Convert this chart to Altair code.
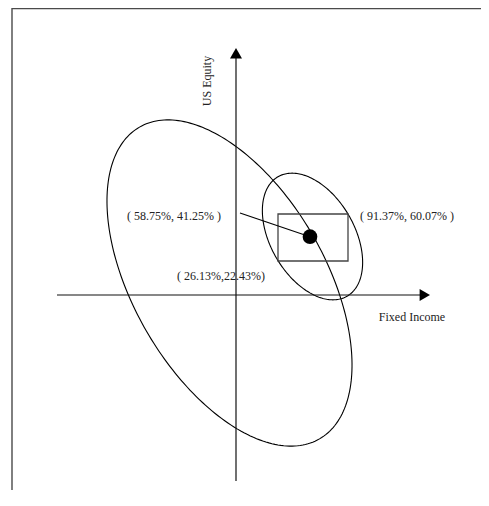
import altair as alt
import numpy as np
import pandas as pd

# ---- diagram values (data units: origin at axis crossing, 1 unit ~ 1 px, y up) ----
ellipse_names = ["big", "small"]
ellipse_cx = [-6.5, 76.5]
ellipse_cy = [12.0, 58.5]
ellipse_a = [180.0, 69.0]     # semi-major
ellipse_b = [96.0, 42.0]      # semi-minor
ellipse_angle = [-60.0, -60.0]  # degrees

axis_x_start, axis_x_end = -179, 185
axis_y_start, axis_y_end = -186, 240
arrow_names = ["up", "right"]
arrow_x = [0.0, 188.8]
arrow_y = [241.8, 0.0]
arrow_shape = ["triangle-up", "triangle-right"]

rect_x1, rect_x2 = [42.0], [112.0]
rect_y1, rect_y2 = [34.0], [81.0]

dot_x, dot_y = [74.0], [58.3]
leader_x = [4.0, 74.0]
leader_y = [82.0, 58.3]

label_text = ["( 58.75%, 41.25% )", "( 91.37%, 60.07% )", "( 26.13%,22.43%)", "Fixed Income"]
label_x = [-62.0, 171.0, -15.0, 176.0]
label_y = [79.0, 79.0, 19.0, -22.0]
ylabel_text = ["US Equity"]
ylabel_x, ylabel_y = [-29.0], [214.0]

frame_left_x = -224.0
frame_top_y = 286.5
frame_bottom_y = -195.0
frame_right_x = 245.0

XD = [-228, 245]
YD = [-195, 287]
xs = alt.Scale(domain=XD, nice=False, zero=False)
ys = alt.Scale(domain=YD, nice=False, zero=False)

# ellipse outlines
rows = []
t = np.linspace(0, 2 * np.pi, 241)
for n, cx, cy, a, b, ang in zip(ellipse_names, ellipse_cx, ellipse_cy, ellipse_a, ellipse_b, ellipse_angle):
    th = np.radians(ang)
    ex = cx + a * np.cos(t) * np.cos(th) - b * np.sin(t) * np.sin(th)
    ey = cy + a * np.cos(t) * np.sin(th) + b * np.sin(t) * np.cos(th)
    for i, (px, py) in enumerate(zip(ex, ey)):
        rows.append({"g": n, "o": i, "x": px, "y": py})
ell_df = pd.DataFrame(rows)

axes_df = pd.DataFrame({
    "g": ["h", "h", "v", "v"],
    "o": [0, 1, 0, 1],
    "x": [axis_x_start, axis_x_end, 0, 0],
    "y": [0, 0, axis_y_start, axis_y_end],
})
frame_df = pd.DataFrame({
    "g": ["f", "f", "f"],
    "o": [0, 1, 2],
    "x": [frame_left_x, frame_left_x, frame_right_x],
    "y": [frame_bottom_y, frame_top_y, frame_top_y],
})
leader_df = pd.DataFrame({"o": [0, 1], "x": leader_x, "y": leader_y})
arrow_df = pd.DataFrame({"n": arrow_names, "x": arrow_x, "y": arrow_y, "s": arrow_shape})
rect_df = pd.DataFrame({"x": rect_x1, "x2": rect_x2, "y": rect_y1, "y2": rect_y2})
dot_df = pd.DataFrame({"x": dot_x, "y": dot_y})
lab_df = pd.DataFrame({"t": label_text, "x": label_x, "y": label_y})
ylab_df = pd.DataFrame({"t": ylabel_text, "x": ylabel_x, "y": ylabel_y})

X = alt.X("x:Q", scale=xs, axis=None)
Y = alt.Y("y:Q", scale=ys, axis=None)

frame = alt.Chart(frame_df).mark_line(color="#4a4a4a", strokeWidth=1.4).encode(
    x=X, y=Y, detail="g:N", order="o:Q")
ellipses = alt.Chart(ell_df).mark_line(color="#000000", strokeWidth=1.1).encode(
    x=X, y=Y, detail="g:N", order="o:Q")
axes = alt.Chart(axes_df).mark_line(color="#111111", strokeWidth=1.2).encode(
    x=X, y=Y, detail="g:N", order="o:Q")
arrows = alt.Chart(arrow_df).mark_point(filled=True, color="#000000", size=144, opacity=1).encode(
    x=X, y=Y, shape=alt.Shape("s:N", scale=None))
rect = alt.Chart(rect_df).mark_rect(fillOpacity=0, stroke="#444444", strokeWidth=1.3).encode(
    x=X, x2="x2:Q", y=Y, y2="y2:Q")
leader = alt.Chart(leader_df).mark_line(color="#000000", strokeWidth=1.1).encode(
    x=X, y=Y, order="o:Q")
dot = alt.Chart(dot_df).mark_circle(color="#000000", size=215, opacity=1).encode(x=X, y=Y)
labels = alt.Chart(lab_df).mark_text(font="Liberation Serif", fontSize=12, color="#222222",
                                     align="center", baseline="middle").encode(x=X, y=Y, text="t:N")
ylab = alt.Chart(ylab_df).mark_text(font="Liberation Serif", fontSize=12, color="#222222",
                                    align="center", baseline="middle", angle=270).encode(x=X, y=Y, text="t:N")

chart = alt.layer(frame, ellipses, axes, arrows, rect, leader, dot, labels, ylab).properties(
    width=473, height=482,
    autosize=alt.AutoSizeParams(type="none"),
    padding=0,
    background="white",
).configure_view(stroke=None)

chart.save("out.html", embed_options={"renderer": "svg", "actions": False})
